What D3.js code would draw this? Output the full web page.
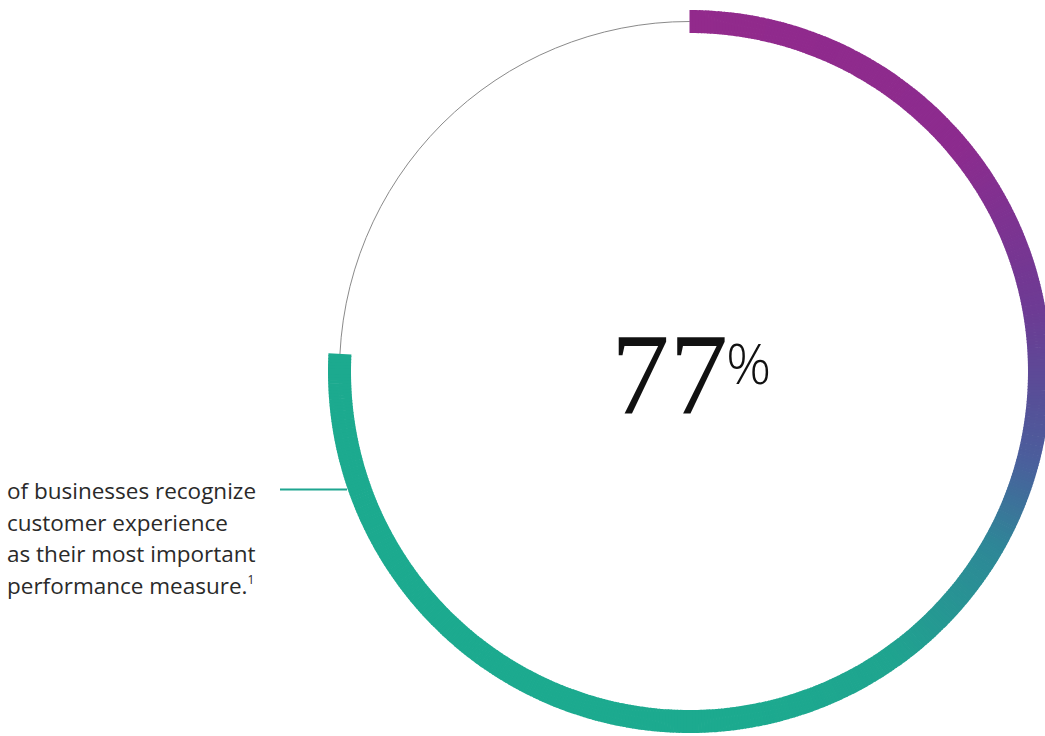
<!DOCTYPE html>
<html>
<head>
<meta charset="utf-8">
<script src="https://cdn.jsdelivr.net/npm/d3@7"></script>
<style>
  html, body { margin: 0; padding: 0; background: #fff; }
  svg { display: block; }
</style>
</head>
<body>
<svg id="chart" width="1045" height="736"></svg>
<script>
// ---- data ----
const statValue = [77];                 // headline percentage
const arcShare = [75.8];                // share of the ring drawn
const labelLines = ["of businesses recognize", "customer experience", "as their most important", "performance measure."];
const footnote = ["1"];
const gradAngles = [0, 50, 80, 95, 105, 120, 145, 170, 360];
const gradColors = ["#922a8c", "#8c2b8e", "#6d3b94", "#565098", "#4a5f9c", "#2e8797", "#1fa48f", "#1caa8f", "#1caa8f"];

// ---- layout ----
const svg = d3.select("#chart");
const cx = 689.5, cy = 371.5;
const rMid = 350, rIn = 338.5, rOut = 361.5;

const g = svg.append("g").attr("transform", `translate(${cx},${cy})`);

// background thin circle
g.append("circle").attr("r", rMid).attr("fill", "none")
  .attr("stroke", "#8a8a8a").attr("stroke-width", 1);

// share -> angle
const angle = d3.scaleLinear().domain([0, 100]).range([0, 2 * Math.PI]);
const colorAt = d3.scaleLinear().domain(gradAngles.map(a => a * Math.PI / 180))
  .range(gradColors).interpolate(d3.interpolateRgb);

const endA = angle(arcShare[0]);
const step = Math.PI / 360;
const segs = d3.range(0, endA, step).map(a => ({ a0: a, a1: Math.min(a + step, endA) }));
const arc = d3.arc().innerRadius(rIn).outerRadius(rOut);

g.selectAll("path.seg").data(segs).join("path")
  .attr("class", "seg")
  .attr("d", d => arc({ startAngle: d.a0, endAngle: Math.min(d.a1 + 0.002, endA) }))
  .attr("fill", d => colorAt((d.a0 + d.a1) / 2));

// headline
const head = svg.append("text")
  .attr("x", 611).attr("y", 414)
  .attr("fill", "#111");
head.append("tspan")
  .attr("font-family", "'Liberation Serif', serif")
  .attr("font-size", 117)
  .text(statValue[0]);
head.append("tspan")
  .attr("font-family", "'Open Sans', sans-serif")
  .attr("font-weight", 300)
  .attr("font-size", 56)
  .attr("dx", -2)
  .attr("dy", -30)
  .text("%");

// connector
svg.append("line")
  .attr("x1", 280).attr("x2", 347).attr("y1", 489.5).attr("y2", 489.5)
  .attr("stroke", "#1ea590").attr("stroke-width", 2);

// label
const lab = svg.append("text")
  .attr("font-family", "'Open Sans', sans-serif")
  .attr("font-weight", 400)
  .attr("font-size", 22.5)
  .attr("fill", "#2a2a2a");
labelLines.forEach((t, i) => {
  lab.append("tspan").attr("x", 7).attr("y", 499 + i * 31.5).text(t);
  if (i === labelLines.length - 1) {
    lab.append("tspan").attr("font-size", 12).attr("dy", -10).text(footnote[0]);
  }
});
</script>
</body>
</html>
